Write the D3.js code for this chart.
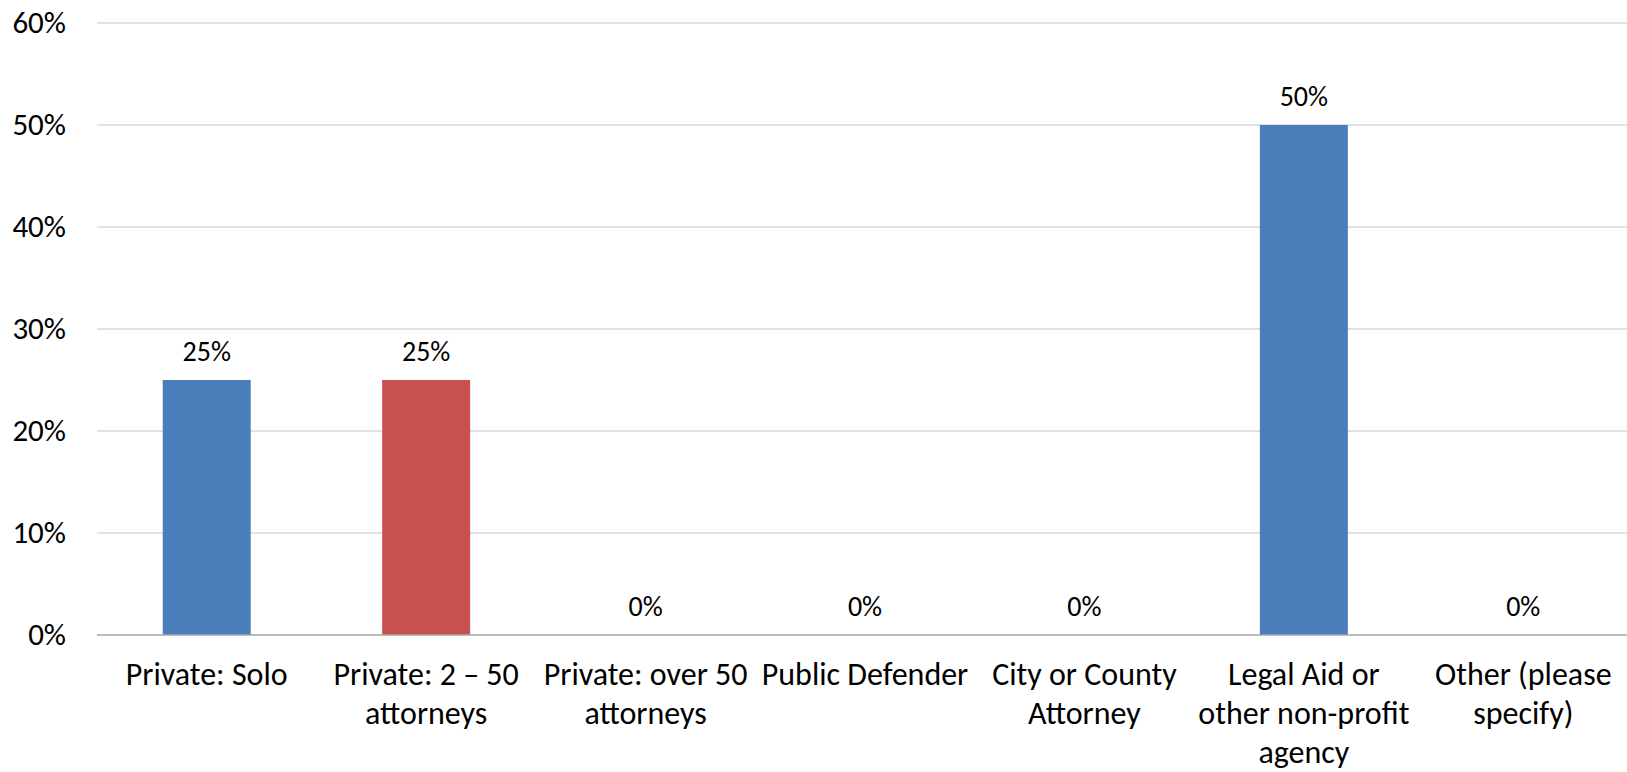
<!DOCTYPE html>
<html>
<head>
<meta charset="utf-8">
<script src="https://cdn.jsdelivr.net/npm/d3@7"></script>
<style>
  html, body { margin: 0; padding: 0; background: #fff; }
  svg { display: block; }
  text { font-family: Carlito, Calibri, Lato, "Open Sans", sans-serif; fill: #000; }
</style>
</head>
<body>
<svg id="chart" width="1627" height="772"></svg>
<script>
const categories = [
  "Private: Solo",
  "Private: 2 – 50 attorneys",
  "Private: over 50 attorneys",
  "Public Defender",
  "City or County Attorney",
  "Legal Aid or other non-profit agency",
  "Other (please specify)"
];
const categoryLines = [
  ["Private: Solo"],
  ["Private: 2 – 50", "attorneys"],
  ["Private: over 50", "attorneys"],
  ["Public Defender"],
  ["City or County", "Attorney"],
  ["Legal Aid or", "other non-profit", "agency"],
  ["Other (please", "specify)"]
];
const values = [0.25, 0.25, 0, 0, 0, 0.50, 0];
const yTicks = [0, 0.1, 0.2, 0.3, 0.4, 0.5, 0.6];
const highlighted = "Private: 2 – 50 attorneys";

(function () {
const svg = d3.select("#chart");
const W = 1627;
const plotLeft = 97, plotRight = 1633, plotTop = 23, plotBottom = 635;

const x = d3.scaleBand().domain(categories).range([plotLeft, plotRight]).padding(0);
const y = d3.scaleLinear().domain([0, 0.6]).range([plotBottom, plotTop]);
const barW = x.step() * 0.401;
const cx = d => x(d) + x.bandwidth() / 2;

// gridlines
svg.append("g").selectAll("line").data(yTicks.filter(t => t > 0)).join("line")
  .attr("x1", plotLeft).attr("x2", W)
  .attr("y1", d => y(d)).attr("y2", d => y(d))
  .attr("stroke", "#d9d9d9").attr("stroke-width", 1.5);

// y axis labels
const yAxis = d3.axisLeft(y).tickValues(yTicks).tickFormat(d3.format(".0%")).tickSize(0).tickPadding(0);
const gy = svg.append("g").attr("transform", "translate(66,0)").call(yAxis);
gy.select(".domain").remove();
gy.attr("font-family", null).attr("font-size", null);
gy.selectAll("text").attr("font-size", 31).attr("fill", "#000").attr("dy", "0.3em");

// bars
svg.append("g").selectAll("rect").data(categories).join("rect")
  .attr("x", d => cx(d) - barW / 2)
  .attr("width", barW)
  .attr("y", (d, i) => y(values[i]))
  .attr("height", (d, i) => y(0) - y(values[i]))
  .attr("fill", d => d === highlighted ? "#c8514f" : "#4a7ebb");

// axis baseline
svg.append("line").attr("x1", plotLeft).attr("x2", W)
  .attr("y1", y(0)).attr("y2", y(0))
  .attr("stroke", "#a6a6a6").attr("stroke-width", 1.5);

// data labels
svg.append("g").selectAll("text").data(categories).join("text")
  .attr("x", cx)
  .attr("y", (d, i) => y(values[i]) - 19)
  .attr("text-anchor", "middle")
  .attr("font-size", 28)
  .text((d, i) => d3.format(".0%")(values[i]));

// category labels
svg.append("g").selectAll("text").data(categories).join("text")
  .attr("x", cx)
  .attr("y", plotBottom + 50)
  .attr("text-anchor", "middle")
  .attr("font-size", 32)
  .each(function (d, i) {
    const t = d3.select(this);
    categoryLines[i].forEach((ln, j) => {
      t.append("tspan").attr("x", cx(d)).attr("dy", j === 0 ? 0 : 39).text(ln);
    });
  });
})();
</script>
</body>
</html>
